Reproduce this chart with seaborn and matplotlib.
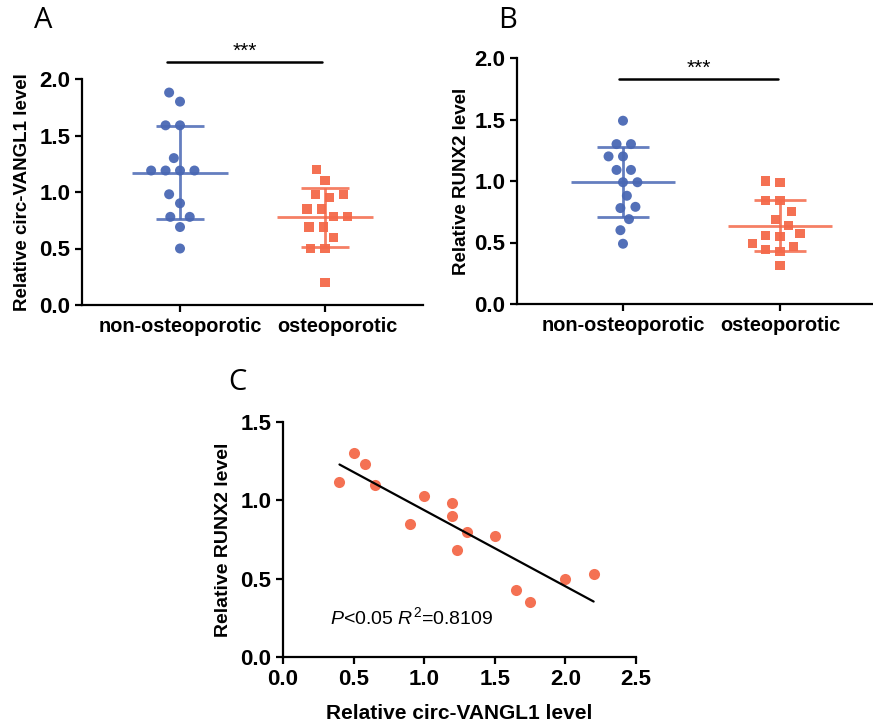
import numpy as np
import pandas as pd
import matplotlib
matplotlib.use('Agg')
import matplotlib.pyplot as plt
import matplotlib.transforms as mtransforms
import seaborn as sns

# data
groups = ['non-osteoporotic', 'osteoporotic']

circ_non = [1.88, 1.80, 1.59, 1.59, 1.30, 1.19, 1.19, 1.19, 1.19, 0.98, 0.90, 0.78, 0.78, 0.69, 0.50]
circ_ost = [1.20, 1.10, 0.98, 0.98, 0.95, 0.85, 0.85, 0.78, 0.78, 0.69, 0.69, 0.60, 0.50, 0.50, 0.20]

runx_non = [1.49, 1.30, 1.30, 1.20, 1.20, 1.09, 1.09, 0.99, 0.99, 0.88, 0.78, 0.79, 0.69, 0.60, 0.49]
runx_ost = [0.99, 1.00, 0.84, 0.84, 0.75, 0.69, 0.64, 0.56, 0.57, 0.55, 0.49, 0.44, 0.47, 0.43, 0.31]

corr_circ = [0.40, 0.50, 0.58, 0.65, 0.90, 1.00, 1.20, 1.20, 1.30, 1.23, 1.50, 1.65, 1.75, 2.00, 2.20]
corr_runx = [1.12, 1.30, 1.23, 1.10, 0.85, 1.03, 0.98, 0.90, 0.80, 0.68, 0.77, 0.43, 0.35, 0.50, 0.53]

blue = '#4a68b4'
orange = '#f4694a'

sns.set_style('ticks')
plt.rcParams['font.family'] = ['Liberation Sans', 'DejaVu Sans']
plt.rcParams['mathtext.fontset'] = 'custom'
plt.rcParams['mathtext.rm'] = 'Liberation Sans'
plt.rcParams['mathtext.it'] = 'Liberation Sans:italic'
for k in ['text.color', 'axes.labelcolor', 'xtick.color', 'ytick.color']:
    plt.rcParams[k] = 'black'

fig = plt.figure(figsize=(8.73, 7.26), dpi=100)
W, H = 873, 726


def px_axes(left, top, right, bottom):
    return fig.add_axes([left / W, 1 - bottom / H, (right - left) / W, (bottom - top) / H])


def style_axes(ax, xsize=14.3, ysize=16):
    for s in ['top', 'right']:
        ax.spines[s].set_visible(False)
    for s in ['left', 'bottom']:
        ax.spines[s].set_linewidth(1.6)
        ax.spines[s].set_color('black')
    ax.tick_params(width=1.6, length=5, color='black', labelcolor='black')
    ax.tick_params(axis='x', labelsize=xsize)
    ax.tick_params(axis='y', labelsize=ysize)
    for lab in ax.get_xticklabels() + ax.get_yticklabels():
        lab.set_fontweight('bold')


def dot_panel(ax, non, ost, ylabel, ylabelpad):
    df = pd.DataFrame({
        'group': [groups[0]] * len(non) + [groups[1]] * len(ost),
        'value': non + ost,
    })
    # the wide transparent edge only spreads the swarm like the original
    sns.swarmplot(data=df[df.group == groups[0]], x='group', y='value', order=groups,
                  color=blue, marker='o', size=7.2, linewidth=2.7, alpha=0.95, ax=ax)
    sns.swarmplot(data=df[df.group == groups[1]], x='group', y='value', order=groups,
                  color=orange, marker='s', size=6.6, linewidth=3.3, alpha=0.95, ax=ax)
    for c in ax.collections:
        c.set_edgecolor('none')
    stats = df.groupby('group')['value'].agg(['mean', 'std']).reindex(groups)
    for i, (g, col) in enumerate(zip(groups, [blue, orange])):
        m, sd = stats.loc[g, 'mean'], stats.loc[g, 'std']
        ax.hlines(m, i - 0.33, i + 0.33, color=col, lw=2, alpha=0.85, zorder=3)
        ax.hlines([m - sd, m + sd], i - 0.165, i + 0.165, color=col, lw=2, alpha=0.85, zorder=3)
        ax.vlines(i, m - sd, m + sd, color=col, lw=2, alpha=0.85, zorder=3)
    ax.set_ylim(0, 2.0)
    ax.set_yticks([0, 0.5, 1.0, 1.5, 2.0])
    ax.set_yticklabels(['0.0', '0.5', '1.0', '1.5', '2.0'])
    ax.set_xlabel('')
    ax.set_ylabel(ylabel, fontsize=13.5, fontweight='bold', labelpad=ylabelpad)
    style_axes(ax)


# panel A
axA = px_axes(82, 79, 423, 305)
dot_panel(axA, circ_non, circ_ost, 'Relative circ-VANGL1 level', 6)
axA.set_xlim(-0.676, 1.676)
# second category label sits a little right of its tick in the original
lab = axA.get_xticklabels()[1]
lab.set_transform(lab.get_transform() + mtransforms.ScaledTranslation(0.12, 0, fig.dpi_scale_trans))
axA.plot([-0.09, 0.98], [2.15, 2.15], color='black', lw=1.8, clip_on=False)
axA.text(0.445, 2.165, '***', ha='center', va='bottom', fontsize=15, clip_on=False)

# panel B
axB = px_axes(517, 58, 886, 304)
dot_panel(axB, runx_non, runx_ost, 'Relative RUNX2 level', 3)
axB.set_xlim(-0.675, 1.675)
axB.plot([-0.025, 0.987], [1.83, 1.83], color='black', lw=1.8, clip_on=False)
axB.text(0.48, 1.84, '***', ha='center', va='bottom', fontsize=15, clip_on=False)

# panel C
axC = px_axes(283, 422, 636, 657)
sns.regplot(x=corr_circ, y=corr_runx, ci=None, ax=axC,
            scatter_kws=dict(color=orange, s=64, alpha=0.95, linewidths=0),
            line_kws=dict(color='black', lw=1.6))
axC.set_xlim(0, 2.5)
axC.set_ylim(0, 1.5)
axC.set_xticks([0, 0.5, 1.0, 1.5, 2.0, 2.5])
axC.set_xticklabels(['0.0', '0.5', '1.0', '1.5', '2.0', '2.5'])
axC.set_yticks([0, 0.5, 1.0, 1.5])
axC.set_yticklabels(['0.0', '0.5', '1.0', '1.5'])
axC.set_xlabel('Relative circ-VANGL1 level', fontsize=15, fontweight='bold', labelpad=10)
axC.set_ylabel('Relative RUNX2 level', fontsize=14, fontweight='bold', labelpad=6)
axC.text(0.33, 0.255, '$P$<0.05 $R^2$=0.8109', fontsize=14, va='center', ha='left')
style_axes(axC, xsize=16, ysize=16)

# panel letters
for letter, x, y in [('A', 43, 21), ('B', 508, 21), ('C', 237, 382)]:
    fig.text(x / W, 1 - y / H, letter, fontsize=21, ha='center', va='center',
             family=['Open Sans', 'DejaVu Sans'])

fig.savefig('out.png', dpi=100)
